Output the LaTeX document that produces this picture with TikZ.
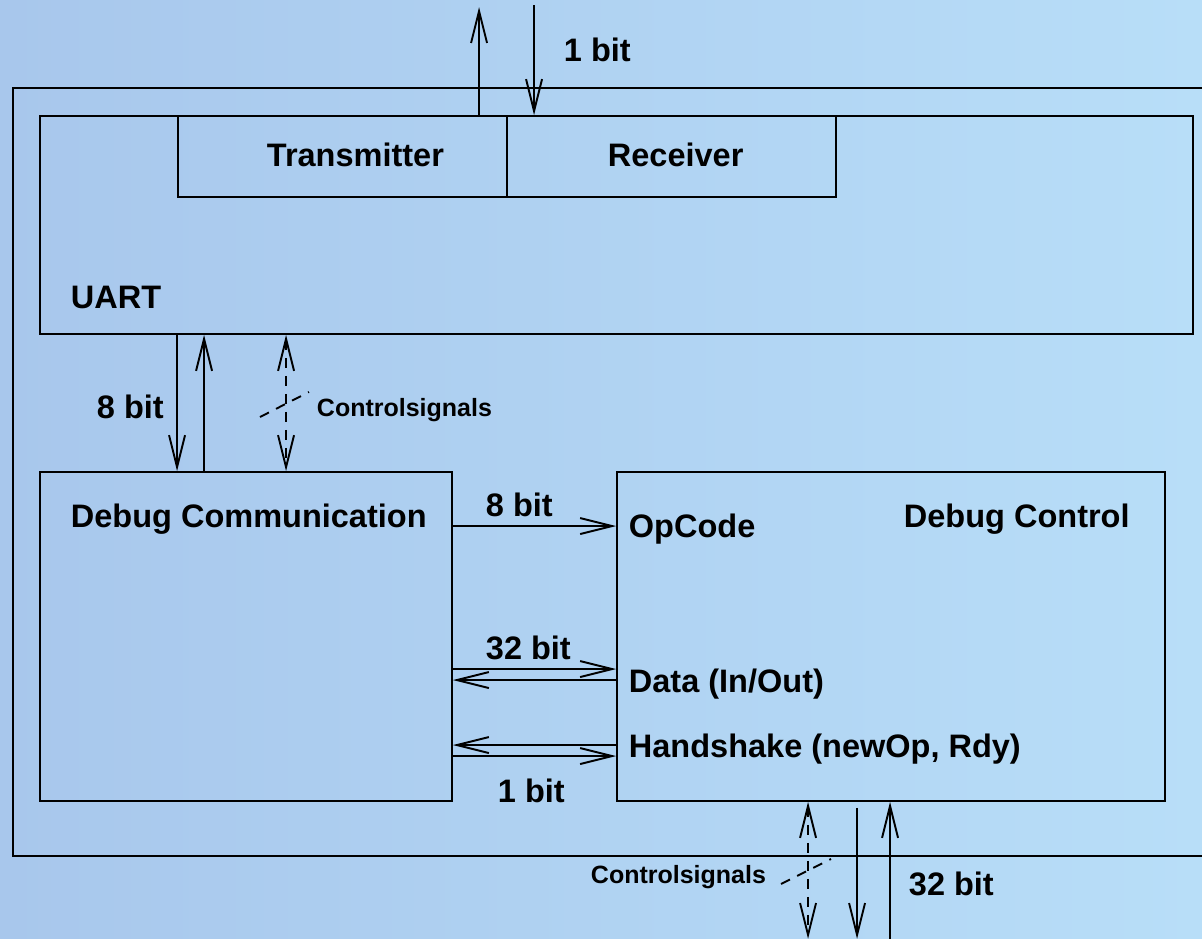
\documentclass[tikz,border=0pt]{standalone}
\usepackage{fontspec}
\setmainfont{Liberation Sans}
\usetikzlibrary{arrows.meta,calc}
\definecolor{bgleft}{RGB}{168,199,236}
\definecolor{bgright}{RGB}{184,222,248}
\begin{document}
\begin{tikzpicture}[x=1pt,y=-1pt,line width=1.9pt,
	>={Straight Barb[length=32pt,width=16pt]},
	box/.style={draw,rectangle,inner sep=0pt,line width=1.9pt},
	lbl/.style={anchor=base west,inner sep=0pt,font=\bfseries\fontsize{32.5}{38}\selectfont},
	sml/.style={anchor=base west,inner sep=0pt,font=\bfseries\fontsize{25}{30}\selectfont},
	ctrl/.style={dash pattern=on 10pt off 8pt}]
	\useasboundingbox (0,0) rectangle (1202,938);
	\shade[left color=bgleft,right color=bgright] (0,0) rectangle (1202,938);
	% aeusserer Rahmen
	\draw (1210,88) -| (13,856) -- (1210,856);
	% Bloecke
	\node[box,minimum width=1153pt,minimum height=218pt] (uart) at (616.5,225) {};
	\node[box,minimum width=329pt,minimum height=81pt] (tx) at (342.5,156.5) {};
	\node[box,minimum width=329pt,minimum height=81pt] (rx) at (671.5,156.5) {};
	\node[box,minimum width=412pt,minimum height=329pt] (dcom) at (246,636.5) {};
	\node[box,minimum width=548pt,minimum height=329pt] (dctl) at (891,636.5) {};
	% Beschriftungen
	\node[lbl] (txlbl) at (266,166) {Transmitter};
	\node[lbl] (rxlbl) at (607,166) {Receiver};
	\node[lbl] (topbit) at (563,61) {1 bit};
	\node[lbl] (uartlbl) at (70,308) {UART};
	\node[lbl] (bitA) at (96,418) {8 bit};
	\node[sml] (ctlA) at (316,416) {Controlsignals};
	\node[lbl] (dcomlbl) at (70,527) {Debug Communication};
	\node[lbl] (dctllbl) at (903,527) {Debug Control};
	\node[lbl] (opc) at (628,537) {OpCode};
	\node[lbl] (bitB) at (485,516) {8 bit};
	\node[lbl] (bitC) at (485,659) {32 bit};
	\node[lbl] (datalbl) at (628,692) {Data (In/Out)};
	\node[lbl] (hslbl) at (628,757) {Handshake (newOp, Rdy)};
	\node[lbl] (bitD) at (497,802) {1 bit};
	\node[sml] (ctlB) at (590,883) {Controlsignals};
	\node[lbl] (bitE) at (908,895) {32 bit};
	% serielle Leitung
	\draw[->] ($(uart.north west)+(440,0)$) -- ++(0,-108);
	\draw[<-] ($(uart.north west)+(495,0)$) -- ++(0,-110);
	% UART <-> Debug Communication
	\draw[->] (uart.south -| tx.west) -- (dcom.north -| tx.west);
	\draw[->] ($(dcom.north west)+(165,0)$) -- ($(uart.south west)+(165,0)$);
	\draw[ctrl,<->] ($(uart.south west)+(247,0)$) -- ($(dcom.north west)+(247,0)$);
	\draw[ctrl] (260,417) -- (309,392);
	% Debug Communication <-> Debug Control
	\draw[->] ($(dcom.north east)+(0,55)$) -- ($(dctl.north west)+(0,55)$);
	\draw[->] ($(dcom.north east)+(0,198)$) -- ($(dctl.north west)+(0,198)$);
	\draw[->] ($(dctl.north west)+(0,209)$) -- ($(dcom.north east)+(0,209)$);
	\draw[->] ($(dctl.north west)+(0,274)$) -- ($(dcom.north east)+(0,274)$);
	\draw[->] ($(dcom.north east)+(0,285)$) -- ($(dctl.north west)+(0,285)$);
	% Debug Control nach aussen
	\draw[ctrl,<->] ($(dctl.south west)+(192,0)$) -- ++(0,137);
	\draw[->] ($(dctl.south west)+(241,6)$) -- ++(0,131);
	\draw[<-] ($(dctl.south west)+(274,0)$) -- ++(0,137);
	\draw[ctrl] (781,884) -- (831,859);
\end{tikzpicture}
\end{document}
